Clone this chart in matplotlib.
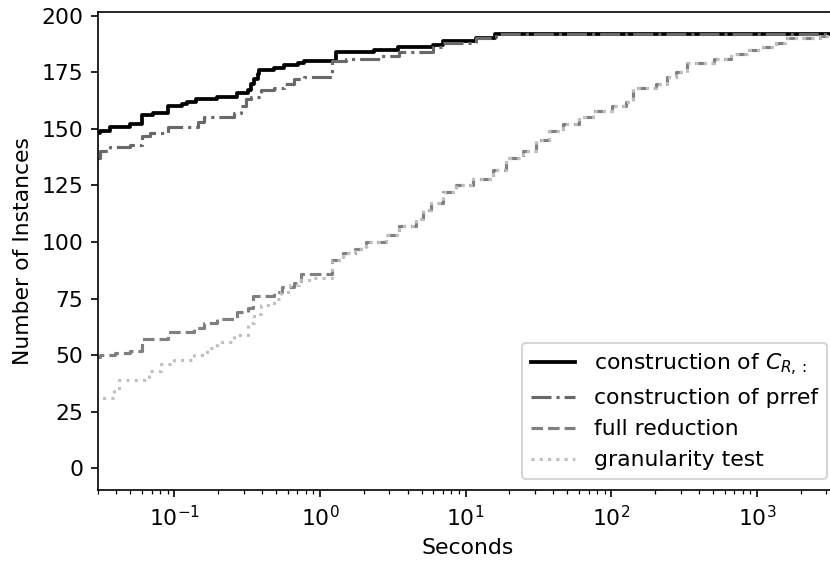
import matplotlib
matplotlib.use("Agg")
import matplotlib.pyplot as plt

# step data: (seconds, cumulative number of instances)
cr_t = [0.01, 0.031, 0.036, 0.050, 0.060, 0.071, 0.091, 0.114, 0.123, 0.141, 0.198,
        0.272, 0.319, 0.337, 0.355, 0.374, 0.384, 0.487, 0.570, 0.703, 0.78, 1.29,
        2.37, 3.43, 5.96, 7.0, 11.8, 15.8, 3600]
cr_n = [148, 149, 151, 152, 156, 157, 160, 161, 162, 163, 164,
        166, 167, 170, 172, 174, 176, 177, 178, 179, 180, 184,
        185, 186, 187, 189, 190, 192, 192]

prref_t = [0.01, 0.031, 0.036, 0.050, 0.060, 0.068, 0.091, 0.145, 0.161, 0.258, 0.287,
           0.311, 0.337, 0.394, 0.487, 0.570, 0.668, 0.78, 1.22, 1.5, 2.57, 3.52,
           5.96, 7.0, 11.8, 16.2, 3600]
prref_n = [137, 140, 142, 143, 147, 148, 151, 153, 155, 157, 160,
           163, 164, 167, 168, 170, 172, 173, 180, 181, 182, 184,
           186, 188, 190, 192, 192]

# shared tail of the two slower methods (they coincide after ~1 s)
tail_t = [1.22, 1.45, 1.75, 2.08, 2.85, 3.52, 4.58, 5.09, 5.8, 7.0, 8.6, 11.2, 15.4,
          19.0, 24.6, 30.6, 37.5, 46.5, 60.5, 74.6, 101, 126, 140, 203, 241, 280,
          332, 505, 663, 858, 1100, 1354, 1570, 2700, 3600]
tail_n = [92, 95, 97, 100, 103, 107, 110, 114, 117, 122, 125, 128, 132,
          137, 140, 145, 149, 152, 155, 158, 160, 162, 168, 170, 173, 175,
          179, 181, 183, 185, 186, 188, 190, 191, 191]

full_t = [0.01, 0.031, 0.039, 0.050, 0.060, 0.090, 0.137, 0.161, 0.198, 0.272, 0.319,
          0.345, 0.487, 0.55, 0.668, 0.74] + tail_t
full_n = [49, 50, 51, 52, 57, 60, 62, 64, 66, 69, 71,
          76, 78, 80, 82, 86] + tail_n

gran_t = [0.01, 0.0388, 0.042, 0.067, 0.081, 0.1, 0.137, 0.169, 0.198, 0.258, 0.319,
          0.355, 0.394, 0.487, 0.54, 0.62, 0.72, 0.9] + tail_t
gran_n = [31, 34, 39, 43, 46, 48, 50, 53, 56, 59, 64,
          68, 72, 75, 78, 81, 83, 84] + tail_n

series = [
    (cr_t, cr_n, "construction of $C_{R,:}$", "black", "-", 1.8),
    (prref_t, prref_n, "construction of prref", "dimgray", "-.", 1.5),
    (full_t, full_n, "full reduction", "gray", "--", 1.5),
    (gran_t, gran_n, "granularity test", "silver", ":", 1.5),
]

plt.rcParams.update({"font.size": 10.5})

fig = plt.figure(figsize=(830 / 150, 563 / 150), dpi=150)
ax = fig.add_axes([98 / 830, 1 - 490 / 563, (838 - 98) / 830, (490 - 12) / 563])

for t, n, label, color, ls, lw in series:
    ax.step(t, n, where="post", color=color, linestyle=ls, linewidth=lw, label=label)

ax.set_xscale("log")
ax.set_xlim(0.03, 3600)
ax.set_ylim(-9.6, 201.6)
ax.set_yticks(range(0, 201, 25))
ax.set_xlabel("Seconds")
ax.set_ylabel("Number of Instances")
ax.legend(loc="lower right", handletextpad=0.9)

fig.savefig("out.png", dpi=150)
